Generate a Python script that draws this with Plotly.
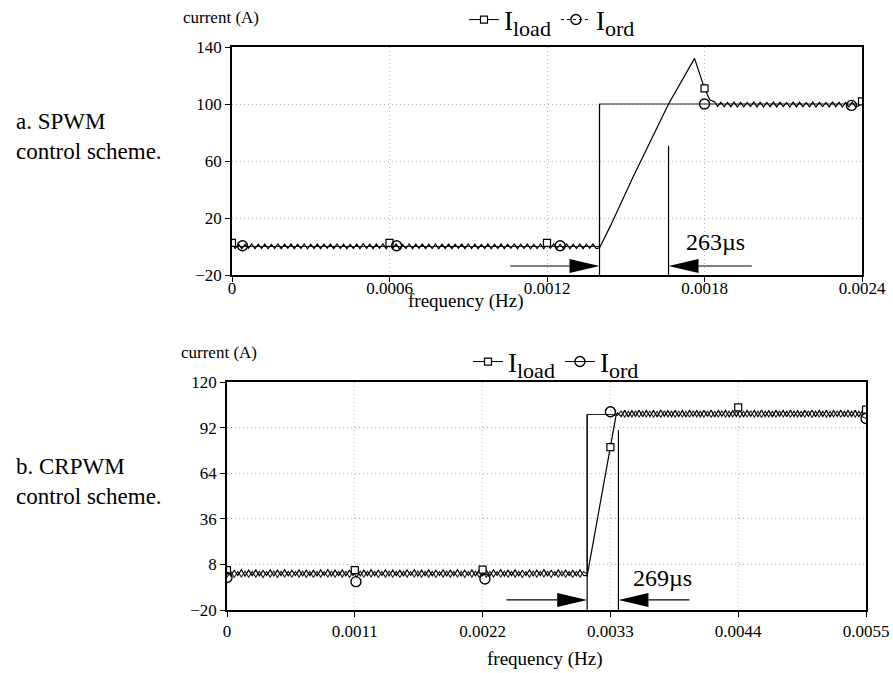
import numpy as np
import plotly.graph_objects as go

W, H = 893, 673
FONT = "Liberation Serif"

# ---------------- a. SPWM control scheme ----------------
a_dt = 0.0000125          # spacing of the recorded ripple samples (s)
a_load_low = [
    2.0, -1.4, 1.7, -1.5, 1.6, -1.3, 1.8, -1.5, 1.6, -1.4,
    1.7, -1.6, 1.5, -1.4, 1.8, -1.5, 1.6, -1.3, 1.7, -1.5,
    1.6, -1.4, 1.8, -1.6, 1.5, -1.4, 1.7, -1.5, 1.6, -1.3,
    1.7, -1.5, 1.8, -1.4, 1.6, -1.5, 1.5, -1.4, 1.7, -1.6,
    2.1, -1.4, 1.6, -1.5, 1.7, -1.3, 1.8, -1.5, 1.6, -1.4,
    1.7, -1.6, 1.5, -1.4, 1.8, -1.5, 1.6, -1.3, 1.7, -1.5,
    1.6, -1.4, 1.8, -1.6, 1.5, -1.4, 1.7, -1.5, 1.6, -1.3,
    1.7, -1.5, 1.8, -1.4, 1.6, -1.5, 1.5, -1.4, 1.7, -1.6,
    1.6, -1.4, 1.7, -1.5, 1.6, -1.3, 1.8, -1.5, 1.6, -1.4,
    1.7, -1.6, 1.5, -1.4, 1.8, -1.5, 1.6, -1.3, 1.7, -1.5,
    1.6, -1.4, 1.8, -1.6, 1.5, -1.4, 1.7, -1.5, 1.6, -1.3,
    1.7, -1.5, -1.0,
]
a_load_ramp_t = [0.001443, 0.001526, 0.001663, 0.001762, 0.0018, 0.00182]
a_load_ramp_v = [15, 48, 100, 132, 111, 103]
a_high_t0 = 0.0018375
a_load_high = [
    101.6, 98.4, 101.2, 98.0, 101.1, 98.1, 101.3, 97.9, 101.2, 98.0,
    101.1, 98.2, 101.3, 98.0, 101.2, 97.9, 101.1, 98.1, 101.3, 98.0,
    101.2, 98.2, 101.1, 97.9, 101.3, 98.0, 101.2, 98.1, 101.1, 98.0,
    101.3, 97.9, 101.2, 98.2, 101.1, 98.0, 101.3, 98.1, 101.2, 97.9,
    101.1, 98.0, 101.3, 98.1, 98.6, 101.8,
]
a_ord_t = [0, 0.0014, 0.0014, 0.0024]
a_ord_v = [0, 0, 100, 100]
a_load_mark_t = [0, 0.0006, 0.0012, 0.0018, 0.0024]
a_load_mark_v = [2.6, 2.6, 2.6, 111, 101.8]
a_ord_mark_t = [0.00004, 0.000627, 0.00125, 0.0018, 0.00236]
a_ord_mark_v = [0.5, 0.5, 0.5, 100, 99]
a_step_t, a_resp_t, a_resp_top = 0.0014, 0.001663, 70.7
a_arrow_y, a_arrow_from, a_arrow_to = -13.7, 0.00106, 0.00198
a_delay_text, a_delay_pos = "263\u00b5s", (0.00184, 3.4)
a_xticks = [0, 0.0006, 0.0012, 0.0018, 0.0024]
a_xlabels = ["0", "0.0006", "0.0012", "0.0018", "0.0024"]
a_yticks = [-20, 20, 60, 100, 140]

# ---------------- b. CRPWM control scheme ----------------
b_dt = 0.000031
b_load_low = [
    4.6, 1.0, 4.4, 1.2, 4.7, 0.9, 4.5, 1.1, 4.6, 1.0,
    4.3, 1.2, 4.6, 0.9, 4.5, 1.1, 4.7, 1.0, 4.4, 1.2,
    4.6, 0.9, 4.5, 1.1, 4.3, 1.0, 4.6, 1.2, 4.7, 0.9,
    4.5, 1.1, 4.6, 1.0, 4.4, 1.2, 4.6, 0.9, 4.5, 1.1,
    4.7, 1.0, 4.4, 1.2, 4.6, 0.9, 4.5, 1.1, 4.3, 1.0,
    4.6, 1.2, 4.7, 0.9, 4.5, 1.1, 4.6, 1.0, 4.4, 1.2,
    4.6, 0.9, 4.5, 1.1, 4.7, 1.0, 4.4, 1.2, 4.6, 0.9,
    4.5, 1.1, 4.3, 1.0, 4.6, 1.2, 4.7, 0.9, 4.5, 1.1,
    4.6, 1.0, 4.4, 1.2, 4.6, 0.9, 4.5, 1.1, 4.7, 1.0,
    4.4, 1.2, 4.6, 0.9, 4.5, 1.1, 4.3, 1.0, 4.6, 1.2,
    1.0,
]
b_ord_low = [
    0.2, 3.8, 0.0, 3.6, 0.3, 3.9, 0.1, 3.7, 0.2, 3.8,
    -0.1, 3.6, 0.2, 3.9, 0.0, 3.7, 0.3, 3.8, 0.1, 3.6,
    0.2, 3.9, 0.0, 3.7, -0.1, 3.8, 0.2, 3.6, 0.3, 3.9,
    0.1, 3.7, 0.2, 3.8, 0.0, 3.6, 0.2, 3.9, 0.1, 3.7,
    0.3, 3.8, 0.0, 3.6, 0.2, 3.9, 0.1, 3.7, -0.1, 3.8,
    0.2, 3.6, 0.3, 3.9, 0.1, 3.7, 0.2, 3.8, 0.0, 3.6,
    0.2, 3.9, 0.1, 3.7, 0.3, 3.8, 0.0, 3.6, 0.2, 3.9,
    0.1, 3.7, -0.1, 3.8, 0.2, 3.6, 0.3, 3.9, 0.1, 3.7,
    0.2, 3.8, 0.0, 3.6, 0.2, 3.9, 0.1, 3.7, 0.3, 3.8,
    0.0, 3.6, 0.2, 3.9, 0.1, 3.7, -0.1, 3.8, 0.2, 3.6,
    2.0,
]
b_load_ramp_t = [0.00335]
b_load_ramp_v = [100]
b_ord_step_t = [0.0031, 0.0033]
b_ord_step_v = [100, 100]
b_high_t0 = 0.003361
b_load_high = [
    101.0, 98.8, 102.6, 98.6, 102.4, 98.9, 102.7, 98.7, 102.5, 98.8,
    102.6, 98.6, 102.8, 98.9, 102.4, 98.7, 102.6, 98.8, 102.5, 98.6,
    102.7, 98.9, 102.4, 98.7, 102.6, 98.8, 102.8, 98.6, 102.5, 98.9,
    102.6, 98.7, 102.4, 98.8, 102.7, 98.6, 102.5, 98.9, 102.6, 98.7,
    102.8, 98.8, 102.4, 98.6, 102.6, 98.9, 102.5, 98.7, 102.7, 98.8,
    102.4, 98.6, 102.6, 98.9, 102.8, 98.7, 102.5, 98.8, 102.6, 98.6,
    102.4, 98.9, 102.7, 98.7, 102.5, 98.8, 102.6, 98.6, 102.4, 103.0,
]
b_ord_high = [
    99.5, 102.2, 98.4, 102.0, 98.6, 102.3, 98.3, 102.1, 98.5, 102.2,
    98.4, 102.0, 98.2, 102.3, 98.6, 102.1, 98.4, 102.2, 98.5, 102.0,
    98.3, 102.3, 98.6, 102.1, 98.4, 102.2, 98.2, 102.0, 98.5, 102.3,
    98.4, 102.1, 98.6, 102.2, 98.3, 102.0, 98.5, 102.3, 98.4, 102.1,
    98.2, 102.2, 98.6, 102.0, 98.4, 102.3, 98.5, 102.1, 98.3, 102.2,
    98.6, 102.0, 98.4, 102.3, 98.2, 102.1, 98.5, 102.2, 98.4, 102.0,
    98.6, 102.3, 98.3, 102.1, 98.5, 102.2, 98.4, 102.0, 98.6, 97.6,
]
b_load_mark_t = [0, 0.0011, 0.0022, 0.0033, 0.0044, 0.0055]
b_load_mark_v = [4.5, 4.5, 4.8, 80, 104.4, 103]
b_ord_mark_t = [0, 0.00111, 0.00222, 0.0033, 0.0055]
b_ord_mark_v = [0, -2.6, -1.0, 101.7, 97.6]
b_step_t, b_resp_t, b_resp_top = 0.0031, 0.003369, 90.4
b_arrow_y, b_arrow_from, b_arrow_to = -13.8, 0.002405, 0.00398
b_delay_text, b_delay_pos = "269\u00b5s", (0.00375, -0.5)
b_xticks = [0, 0.0011, 0.0022, 0.0033, 0.0044, 0.0055]
b_xlabels = ["0", "0.0011", "0.0022", "0.0033", "0.0044", "0.0055"]
b_yticks = [-20, 8, 36, 64, 92, 120]

# plot boxes in pixels: (left, right, top, bottom)
BOX_A = (232, 862, 47, 275)
BOX_B = (227, 866, 382, 610)


def px_x(p):
    return p / W


def px_y(p):
    return 1 - p / H


def gapped(ts, vs):
    """marker-only points joined with gaps, so the legend still shows a line"""
    xs, ys = [], []
    for t, v in zip(ts, vs):
        xs += [t, None]
        ys += [v, None]
    return xs, ys


def sub_name(base, sub):
    return f'{base}<sub><span style="font-size:22px">{sub}</span></sub>'


fig = go.Figure()

panels = [
    dict(box=BOX_A, xa="x", ya="y", leg="legend",
         load_x=list(np.arange(len(a_load_low)) * a_dt) + a_load_ramp_t
         + list(a_high_t0 + np.arange(len(a_load_high)) * a_dt),
         load_y=a_load_low + a_load_ramp_v + a_load_high,
         ord_x=a_ord_t, ord_y=a_ord_v,
         lm=(a_load_mark_t, a_load_mark_v), om=(a_ord_mark_t, a_ord_mark_v),
         ord_dash="dot"),
    dict(box=BOX_B, xa="x2", ya="y2", leg="legend2",
         load_x=list(np.arange(len(b_load_low)) * b_dt) + b_load_ramp_t
         + list(b_high_t0 + np.arange(len(b_load_high)) * b_dt),
         load_y=b_load_low + b_load_ramp_v + b_load_high,
         ord_x=list(np.arange(len(b_ord_low)) * b_dt) + b_ord_step_t
         + list(b_high_t0 + np.arange(len(b_ord_high)) * b_dt),
         ord_y=b_ord_low + b_ord_step_v + b_ord_high,
         lm=(b_load_mark_t, b_load_mark_v), om=(b_ord_mark_t, b_ord_mark_v),
         ord_dash="solid"),
]

for p in panels:
    fig.add_trace(go.Scatter(x=p["ord_x"], y=p["ord_y"], mode="lines",
                             line=dict(color="#222", width=1.1),
                             xaxis=p["xa"], yaxis=p["ya"], showlegend=False,
                             hoverinfo="skip"))
    fig.add_trace(go.Scatter(x=p["load_x"], y=p["load_y"], mode="lines",
                             line=dict(color="black", width=1.2),
                             xaxis=p["xa"], yaxis=p["ya"], showlegend=False,
                             hoverinfo="skip"))
    mx, my = gapped(*p["lm"])
    fig.add_trace(go.Scatter(x=mx, y=my, mode="lines+markers", name=sub_name("I", "load"),
                             line=dict(color="black", width=1),
                             marker=dict(symbol="square", size=7, color="white",
                                         line=dict(color="black", width=1.2)),
                             xaxis=p["xa"], yaxis=p["ya"], legend=p["leg"]))
    mx, my = gapped(*p["om"])
    fig.add_trace(go.Scatter(x=mx, y=my, mode="lines+markers", name=sub_name("I", "ord"),
                             line=dict(color="black", width=1, dash=p["ord_dash"]),
                             marker=dict(symbol="circle", size=10, color="rgba(255,255,255,0)",
                                         line=dict(color="black", width=1.4)),
                             xaxis=p["xa"], yaxis=p["ya"], legend=p["leg"]))

axis_common = dict(showline=True, mirror=True, linecolor="black", linewidth=1.5,
                   ticks="outside", ticklen=5, tickcolor="black",
                   showgrid=True, gridcolor="#b4b4b4", gridwidth=1, griddash="1px,3px",
                   zeroline=False, tickfont=dict(family=FONT, size=17, color="black"))

fig.update_layout(
    xaxis=dict(axis_common, domain=[px_x(BOX_A[0]), px_x(BOX_A[1])],
               range=[a_xticks[0], a_xticks[-1]], tickvals=a_xticks, ticktext=a_xlabels,
               anchor="y", ticklabelstandoff=-8),
    yaxis=dict(axis_common, domain=[px_y(BOX_A[3]), px_y(BOX_A[2])],
               range=[a_yticks[0], a_yticks[-1]], tickvals=a_yticks, anchor="x"),
    xaxis2=dict(axis_common, domain=[px_x(BOX_B[0]), px_x(BOX_B[1])],
                range=[b_xticks[0], b_xticks[-1]], tickvals=b_xticks, ticktext=b_xlabels,
                anchor="y2"),
    yaxis2=dict(axis_common, domain=[px_y(BOX_B[3]), px_y(BOX_B[2])],
                range=[b_yticks[0], b_yticks[-1]], tickvals=b_yticks, anchor="x2"),
)

legend_common = dict(orientation="h", xanchor="center", yanchor="middle",
                     font=dict(family=FONT, size=27, color="black"),
                     bgcolor="rgba(0,0,0,0)", itemwidth=30, tracegroupgap=0)
fig.update_layout(
    legend=dict(legend_common, x=px_x(552), y=px_y(20)),
    legend2=dict(legend_common, x=px_x(556), y=px_y(362)),
)

# delay markers: step edge line, response line, arrows and label
shapes, annotations = [], []
specs = [
    (BOX_A, "x", "y", a_xticks, a_yticks, a_step_t, a_resp_t, a_resp_top,
     a_arrow_y, a_arrow_from, a_arrow_to, a_delay_text, a_delay_pos),
    (BOX_B, "x2", "y2", b_xticks, b_yticks, b_step_t, b_resp_t, b_resp_top,
     b_arrow_y, b_arrow_from, b_arrow_to, b_delay_text, b_delay_pos),
]
for (box, xr, yr, xt, yt, st, rt, rtop, ay, af, at, txt, pos) in specs:
    ux = (xt[-1] - xt[0]) / (box[1] - box[0])   # data units per pixel
    uy = (yt[-1] - yt[0]) / (box[3] - box[2])
    head_len, head_half = 30 * ux, 7 * uy
    ln = dict(color="black", width=1.2)
    shapes.append(dict(type="line", xref=xr, yref=yr, x0=st, x1=st, y0=yt[0], y1=100, line=ln))
    shapes.append(dict(type="line", xref=xr, yref=yr, x0=rt, x1=rt, y0=yt[0], y1=rtop, line=ln))
    shapes.append(dict(type="line", xref=xr, yref=yr, x0=af, x1=st - head_len, y0=ay, y1=ay, line=ln))
    shapes.append(dict(type="line", xref=xr, yref=yr, x0=rt + head_len, x1=at, y0=ay, y1=ay, line=ln))
    shapes.append(dict(type="path", xref=xr, yref=yr, fillcolor="black", line=dict(width=0),
                       path=f"M {st},{ay} L {st - head_len},{ay + head_half} "
                            f"L {st - head_len},{ay - head_half} Z"))
    shapes.append(dict(type="path", xref=xr, yref=yr, fillcolor="black", line=dict(width=0),
                       path=f"M {rt},{ay} L {rt + head_len},{ay + head_half} "
                            f"L {rt + head_len},{ay - head_half} Z"))
    annotations.append(dict(x=pos[0], y=pos[1], xref=xr, yref=yr, text=txt, showarrow=False,
                            font=dict(family=FONT, size=24, color="black"),
                            xanchor="center", yanchor="middle"))


# axis titles and panel captions
def label(text, x, y, size, xanchor="center", align="center"):
    annotations.append(dict(x=px_x(x), y=px_y(y), xref="paper", yref="paper", text=text,
                            showarrow=False, xanchor=xanchor, yanchor="middle", align=align,
                            font=dict(family=FONT, size=size, color="black")))


label("current (A)", 261, 17, 17, xanchor="right")
label("current (A)", 259, 352, 17, xanchor="right")
label("frequency (Hz)", 466, 301, 19)
label("frequency (Hz)", 545, 659, 19)
label("a. SPWM<br>control scheme.", 14, 137, 23, xanchor="left", align="left")
label("b. CRPWM<br>control scheme.", 14, 481, 23, xanchor="left", align="left")

fig.update_layout(width=W, height=H, autosize=False,
                  margin=dict(l=0, r=0, t=0, b=0, autoexpand=False),
                  paper_bgcolor="white", plot_bgcolor="white",
                  shapes=shapes, annotations=annotations,
                  font=dict(family=FONT, color="black"))

fig.write_html("out.html")
